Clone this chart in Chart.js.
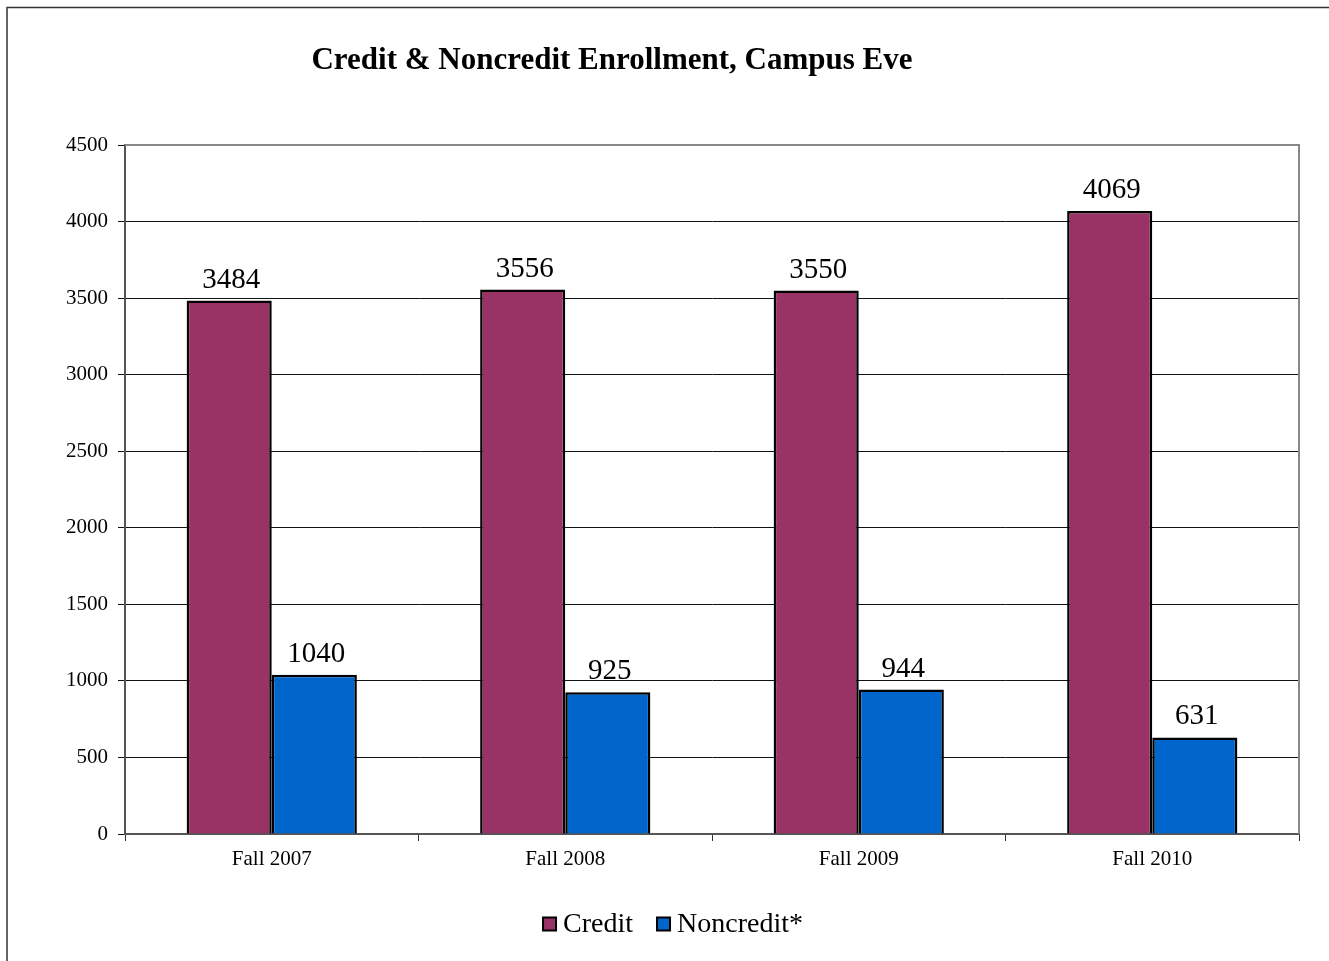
<!DOCTYPE html>
<html>
<head>
<meta charset="utf-8">
<script src="https://cdn.jsdelivr.net/npm/chart.js@4.4.0/dist/chart.umd.min.js"></script>
<style>
  html, body { margin: 0; padding: 0; background: #fff; }
  #wrap { width: 1329px; height: 961px; position: relative; }
</style>
</head>
<body>
<div id="wrap"><canvas id="myChart" width="1329" height="961"></canvas></div>
<script>
var categories = ['Fall 2007', 'Fall 2008', 'Fall 2009', 'Fall 2010'];
var creditValues = [3484, 3556, 3550, 4069];
var noncreditValues = [1040, 925, 944, 631];
var seriesNames = ['Credit', 'Noncredit*'];
var chartTitle = 'Credit & Noncredit Enrollment, Campus Eve';

var serif = '"Liberation Serif", "Times New Roman", serif';

// frame, title, plot border and legend
var decorPlugin = {
    id: 'decor',
    beforeDraw: function (chart) {
        var c = chart.ctx;
        c.save();
        c.fillStyle = '#fff';
        c.fillRect(0, 0, chart.width, chart.height);
        c.strokeStyle = '#333';
        c.lineWidth = 1.5;
        c.beginPath();
        c.moveTo(7, chart.height);
        c.lineTo(7, 7.5);
        c.lineTo(chart.width, 7.5);
        c.stroke();
        c.fillStyle = '#000';
        c.font = 'bold 31px ' + serif;
        c.textAlign = 'center';
        c.textBaseline = 'middle';
        c.fillText(chartTitle, 612, 61);
        c.restore();
    },
    afterDraw: function (chart) {
        var a = chart.chartArea;
        var c = chart.ctx;
        c.save();
        c.strokeStyle = '#888';
        c.lineWidth = 2;
        c.beginPath();
        c.moveTo(a.left, a.top);
        c.lineTo(a.right, a.top);
        c.lineTo(a.right, a.bottom);
        c.stroke();

        // legend
        c.font = '28px ' + serif;
        c.textBaseline = 'middle';
        c.textAlign = 'left';
        var box = 13, gap = 7, itemGap = 24;
        var items = chart.data.datasets.map(function (ds) {
            return { ds: ds, w: box + gap + c.measureText(ds.label).width };
        });
        var total = items.reduce(function (s, it) { return s + it.w; }, 0) + itemGap * (items.length - 1);
        var x = (chart.width + 17) / 2 - total / 2;
        var y = 924;
        items.forEach(function (it) {
            c.fillStyle = it.ds.backgroundColor;
            c.fillRect(x, y - box / 2, box, box);
            c.strokeStyle = '#000';
            c.lineWidth = 2;
            c.strokeRect(x, y - box / 2, box, box);
            c.fillStyle = '#000';
            c.fillText(it.ds.label, x + box + gap, y + 1);
            x += it.w + itemGap;
        });
        c.restore();
    }
};

// value labels above bars
var valueLabels = {
    id: 'valueLabels',
    afterDatasetsDraw: function (chart) {
        var c = chart.ctx;
        c.save();
        c.fillStyle = '#000';
        c.font = '29px ' + serif;
        c.textAlign = 'center';
        c.textBaseline = 'bottom';
        chart.data.datasets.forEach(function (ds, i) {
            chart.getDatasetMeta(i).data.forEach(function (bar, j) {
                c.fillText(ds.data[j], bar.x + 2, bar.y - 6);
            });
        });
        c.restore();
    }
};

var ctx = document.getElementById('myChart').getContext('2d');
var chart = new Chart(ctx, {
    type: 'bar',
    data: {
        labels: categories,
        datasets: [{
            label: seriesNames[0],
            data: creditValues,
            backgroundColor: '#993366',
            borderColor: '#000',
            borderWidth: 2.5
        }, {
            label: seriesNames[1],
            data: noncreditValues,
            backgroundColor: '#0066CC',
            borderColor: '#000',
            borderWidth: 2.5
        }]
    },
    options: {
        responsive: false,
        animation: false,
        layout: { padding: { top: 145, right: 30, left: 0, bottom: 67 } },
        datasets: {
            bar: { categoryPercentage: 0.58, barPercentage: 1.0 }
        },
        scales: {
            x: {
                afterFit: function (s) { s.height = 60; },
                grid: { offset: true, drawOnChartArea: false, drawTicks: true, tickLength: 7, color: '#333' },
                border: { color: '#555', width: 2 },
                ticks: { color: '#000', font: { family: serif, size: 21 }, padding: 6 }
            },
            y: {
                min: 0,
                max: 4500,
                afterFit: function (s) { s.width = 125; },
                ticks: {
                    stepSize: 500, color: '#000', font: { family: serif, size: 21 }, padding: 10,
                    callback: function (v) { return String(v); }
                },
                grid: { color: '#111', lineWidth: 1, tickLength: 7 },
                border: { color: '#555', width: 2 }
            }
        },
        plugins: {
            title: { display: false },
            tooltip: { enabled: false },
            legend: { display: false }
        }
    },
    plugins: [decorPlugin, valueLabels]
});
</script>
</body>
</html>
